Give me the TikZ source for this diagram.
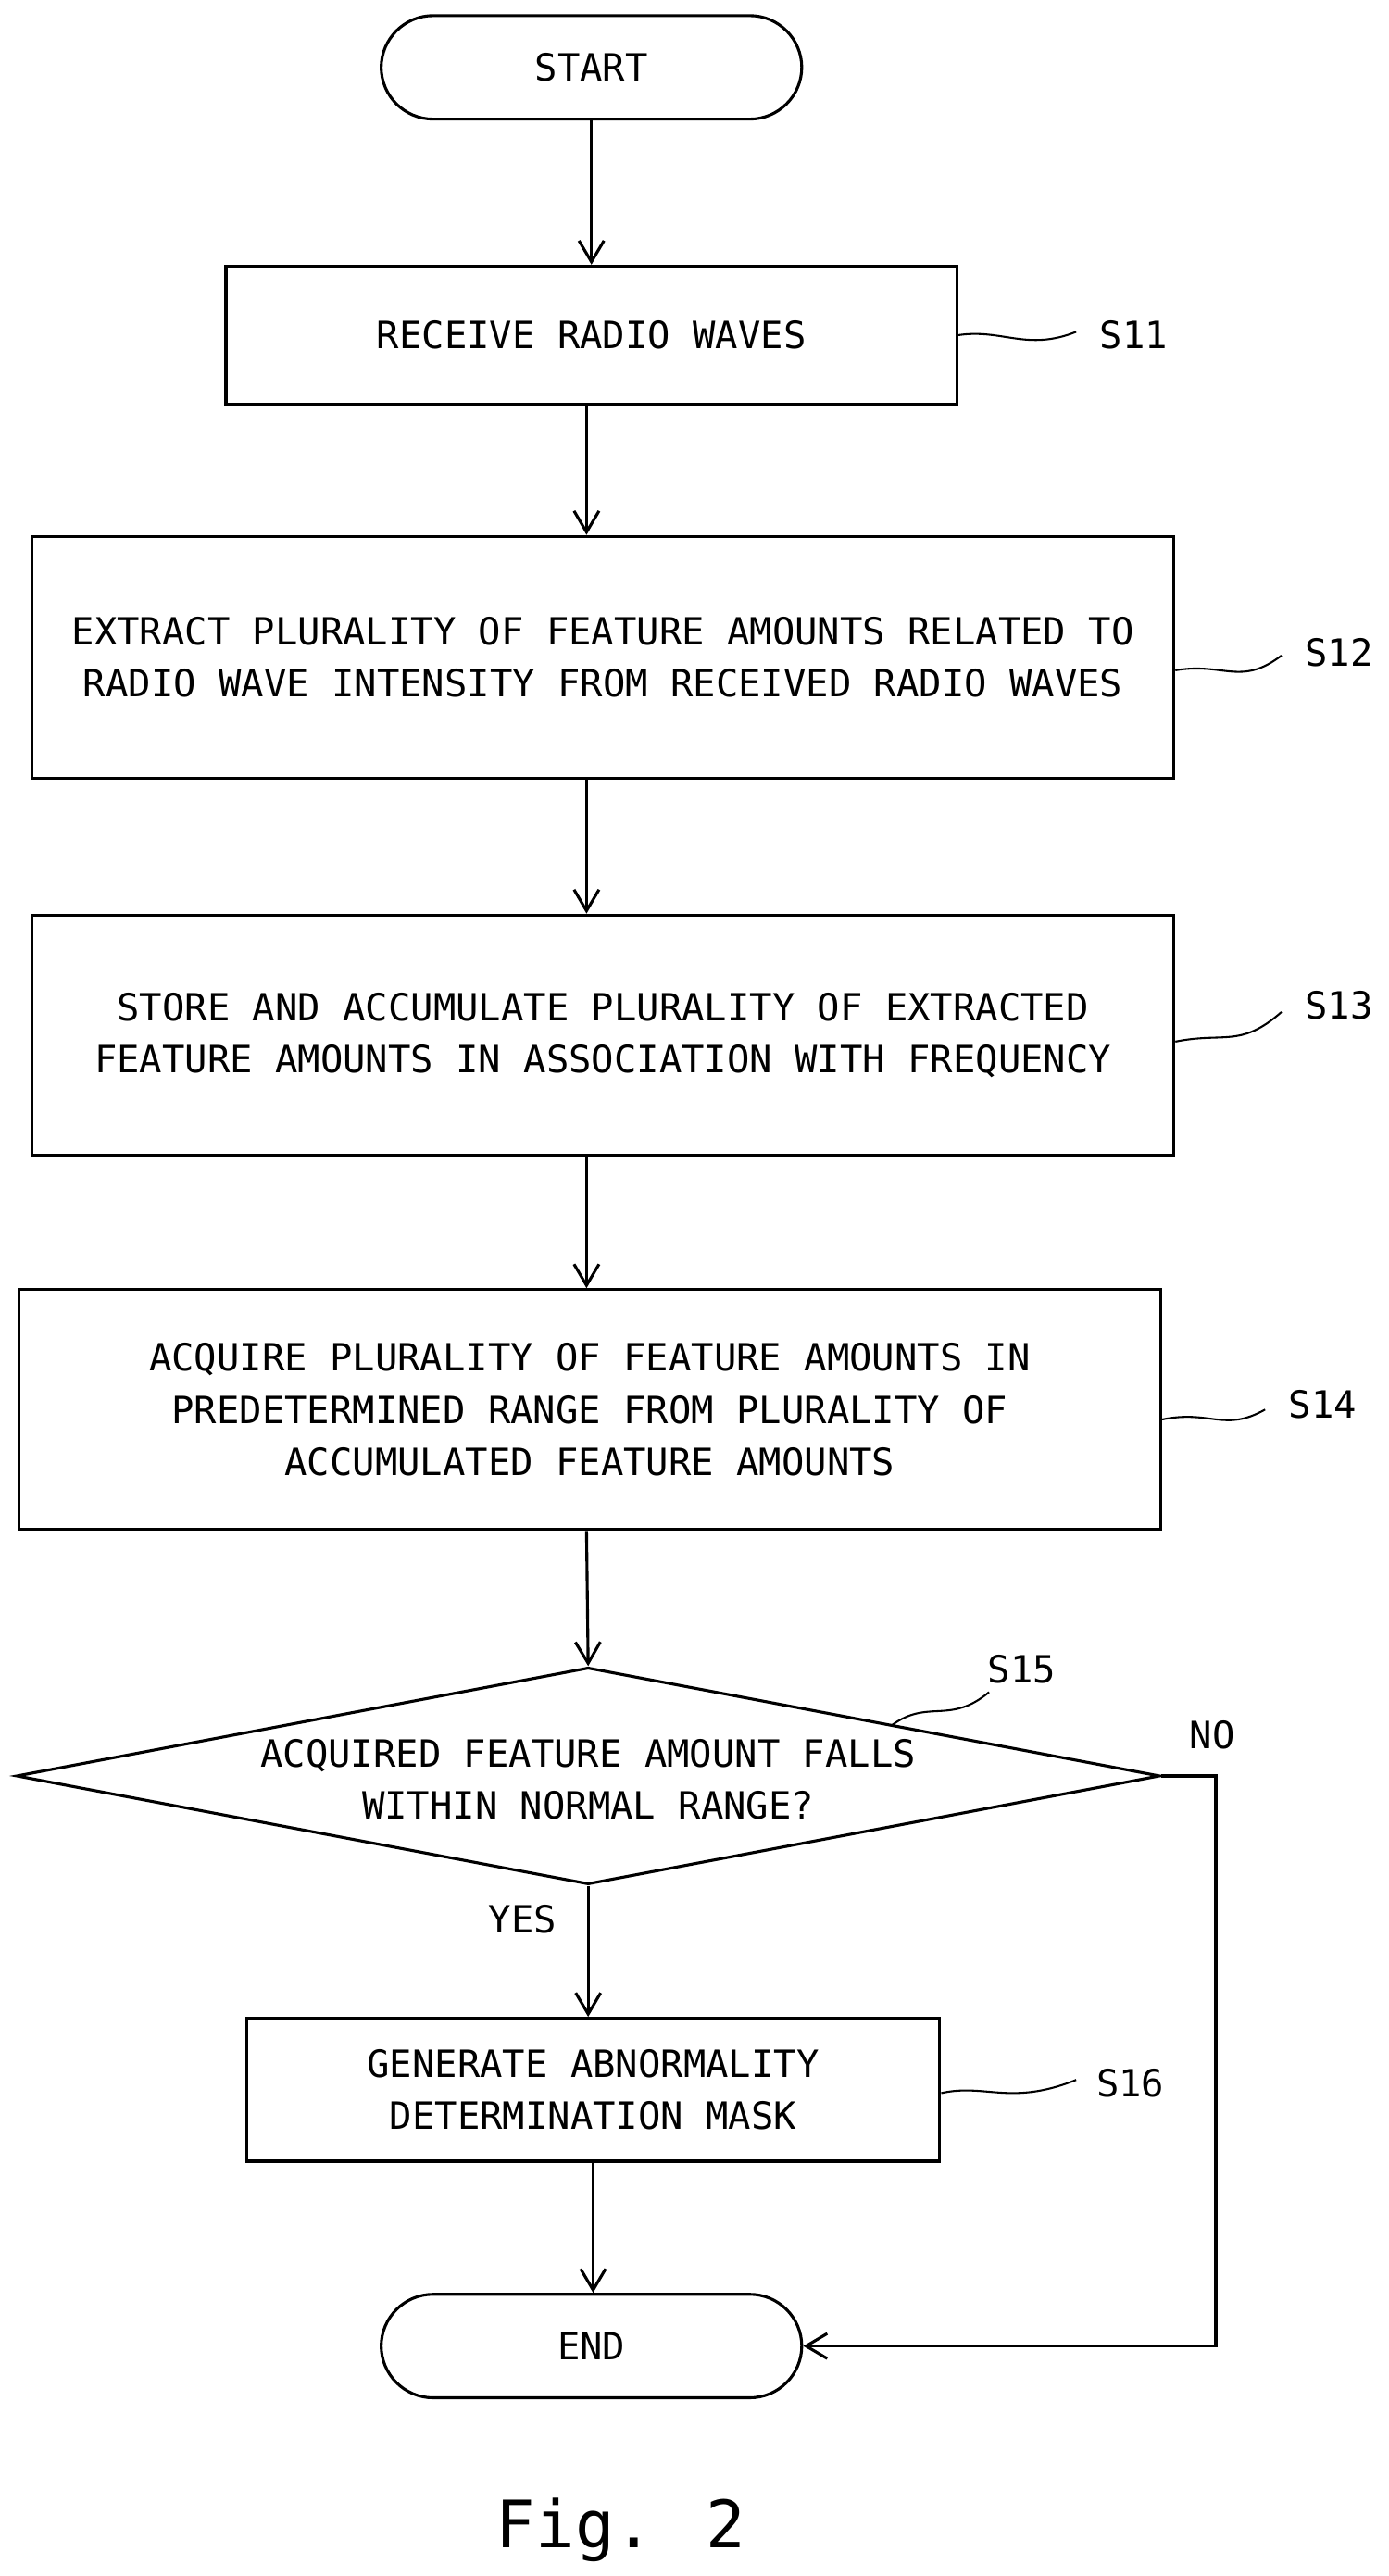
\documentclass[tikz,border=0pt]{standalone}
\usepackage{fontspec}
\setmainfont{DejaVu Sans Mono}
\usetikzlibrary{arrows.meta,shapes.geometric}
\tikzset{
  box/.style={draw,line width=1.5pt,align=center,inner sep=0pt},
  term/.style={draw,line width=1.5pt,rounded corners=0.95cm,minimum width=7.68cm,minimum height=1.89cm},
  flow/.style={line width=1.5pt,-{Straight Barb[length=11pt,width=13pt,line width=1.5pt]}},
  lead/.style={line width=1pt},
  steplbl/.style={inner sep=0pt}
}
\begin{document}
\fontsize{19.5}{27}\selectfont
\begin{tikzpicture}[x=0.03cm,y=-0.03cm]
    \useasboundingbox (0,0) rectangle (845,1568);

    % terminals and steps
    \node[term] (start) at (360,41) {START};
    \node[box,minimum width=13.35cm,minimum height=2.52cm] (s11) at (360,204) {RECEIVE RADIO WAVES};
    \node[box,minimum width=20.85cm,minimum height=4.41cm] (s12) at (367,400) {EXTRACT PLURALITY OF FEATURE AMOUNTS RELATED TO\\RADIO WAVE INTENSITY FROM RECEIVED RADIO WAVES};
    \node[box,minimum width=20.85cm,minimum height=4.38cm] (s13) at (367,630) {STORE AND ACCUMULATE PLURALITY OF EXTRACTED\\FEATURE AMOUNTS IN ASSOCIATION WITH FREQUENCY};
    \node[box,minimum width=20.85cm,minimum height=4.38cm] (s14) at (359,858) {ACQUIRE PLURALITY OF FEATURE AMOUNTS IN\\PREDETERMINED RANGE FROM PLURALITY OF\\ACCUMULATED FEATURE AMOUNTS};
    \node[draw,line width=1.5pt,diamond,aspect=5.27,inner sep=0pt,minimum width=20.88cm,minimum height=3.96cm,align=center] (s15) at (358,1081) {};
    \node[align=center] at (358,1083) {ACQUIRED FEATURE AMOUNT FALLS\\WITHIN NORMAL RANGE?};
    \node[box,minimum width=12.66cm,minimum height=2.61cm] (s16) at (361,1272) {GENERATE ABNORMALITY\\DETERMINATION MASK};
    \node[term] (end) at (360,1428) {END};

    % connectors
    \draw[flow] (start) -- (s11);
    \draw[flow] (s11.south -| 357,0) -- (s12.north -| 357,0);
    \draw[flow] (s12.south -| 357,0) -- (s13.north -| 357,0);
    \draw[flow] (s13.south -| 357,0) -- (s14.north -| 357,0);
    \draw[flow] (s14.south -| 357,0) -- (s15.north);
    \draw[flow] (s15.south) -- (s16.north -| s15.south);
    \draw[flow] (s16.south) -- (end.north -| s16.south);
    \coordinate (nocorner) at (740,1081);
    \draw[flow] (s15.east) -- (nocorner) |- (end.east);
    \node at (738,1056) {NO};
    \node at (318,1168) {YES};

    % step labels with leaders
    \node[steplbl] (l11) at (690,204) {S11};
    \draw[lead] (s11.east) .. controls (610,200) and (625,214) .. (655,202);
    \node[steplbl] (l12) at (815,397) {S12};
    \draw[lead] (s12.east |- 0,408) .. controls (745,403) and (755,418) .. (780,399);
    \node[steplbl] (l13) at (815,612) {S13};
    \draw[lead] (s13.east |- 0,634) .. controls (745,628) and (755,638) .. (780,616);
    \node[steplbl] (l14) at (805,855) {S14};
    \draw[lead] (s14.east |- 0,864) .. controls (737,858) and (745,872) .. (770,858);
    \node[steplbl] (l15) at (622,1016) {S15};
    \draw[lead] (543,1050) .. controls (565,1034) and (578,1050) .. (602,1030);
    \node[steplbl] (l16) at (688,1268) {S16};
    \draw[lead] (s16.east |- 0,1274) .. controls (600,1268) and (615,1282) .. (655,1266);

    % caption
    \node[font=\fontsize{34}{40}\selectfont] (fig) at (378,1540) {Fig. 2};
\end{tikzpicture}
\end{document}
